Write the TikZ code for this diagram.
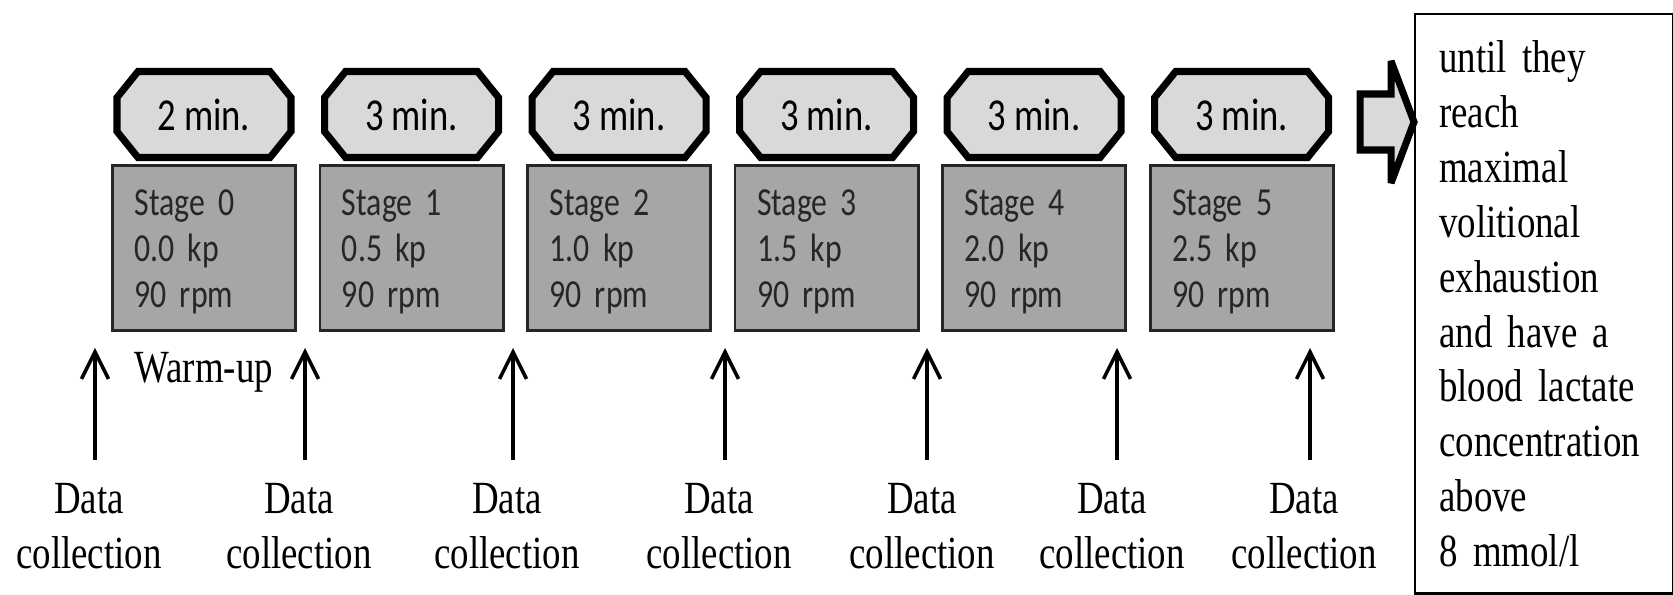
\documentclass[tikz,border=0pt]{standalone}
\usepackage{fontspec}
\setmainfont{Liberation Serif}[FakeStretch=0.8, WordSpace=0.8]
\newfontfamily\calfont{Carlito}[FakeStretch=0.8, WordSpace=0.95]
\usepackage{tikz}
\usetikzlibrary{arrows.meta}
\usetikzlibrary{positioning,backgrounds}

\definecolor{lightfill}{RGB}{217,217,217}
\definecolor{stagefill}{RGB}{166,166,166}

\tikzset{
  stagebox/.style={draw=black!85, line width=0.8pt, fill=stagefill,
    minimum width=1.83cm, minimum height=1.65cm, text width=1.39cm,
    inner xsep=0.22cm, align=left, text=black!85,
    execute at begin node={\rule{0pt}{0.34cm}},
    font=\calfont\fontsize{11.3}{13.1}\selectfont},
  timebox/.style={inner sep=0pt, outer sep=0pt, minimum height=0.87cm,
    font=\calfont\fontsize{13}{15}\selectfont},
  octline/.style={draw, line width=2pt, fill=lightfill},
  octpath/.style={insert path={+(-87,-17) -- +(-66,-43) -- +(66,-43) -- +(87,-17)
    -- +(87,17) -- +(66,43) -- +(-66,43) -- +(-87,17) -- cycle}},
  datalbl/.style={align=center, anchor=north, inner xsep=0pt, inner ysep=0.22cm,
    font=\fontsize{13.1}{15.6}\selectfont},
  goalbox/.style={draw, line width=0.7pt, anchor=north west,
    minimum width=2.57cm, minimum height=5.79cm, text width=2.1cm,
    inner xsep=0.24cm, align=left, font=\fontsize{13.1}{15.6}\selectfont},
  bigarrow/.style={draw, line width=2pt, line join=miter, miter limit=4, fill=lightfill}
}

\begin{document}
\begin{tikzpicture}[x=0.01cm, y=-0.01cm, line width=1pt,
  >={Straight Barb[length=2.7mm,width=2.7mm]}]
\useasboundingbox (0,0) rectangle (1673,595);
% stages
\node (s0) [stagebox] at (204,248) {Stage 0\\0.0 kp\\90 rpm};
\node (s1) [stagebox, right=0.216cm of s0] {Stage 1\\0.5 kp\\90 rpm};
\node (s2) [stagebox, right=0.216cm of s1] {Stage 2\\1.0 kp\\90 rpm};
\node (s3) [stagebox, right=0.216cm of s2] {Stage 3\\1.5 kp\\90 rpm};
\node (s4) [stagebox, right=0.216cm of s3] {Stage 4\\2.0 kp\\90 rpm};
\node (s5) [stagebox, right=0.216cm of s4] {Stage 5\\2.5 kp\\90 rpm};
% durations
\node (t0) [timebox, above=0.06cm of s0] {2 min.};
\node (t1) [timebox, above=0.06cm of s1] {3 min.};
\node (t2) [timebox, above=0.06cm of s2] {3 min.};
\node (t3) [timebox, above=0.06cm of s3] {3 min.};
\node (t4) [timebox, above=0.06cm of s4] {3 min.};
\node (t5) [timebox, above=0.06cm of s5] {3 min.};
\begin{scope}[on background layer]
\path[octline] (t0.center) [octpath];
\path[octline] (t1.center) [octpath];
\path[octline] (t2.center) [octpath];
\path[octline] (t3.center) [octpath];
\path[octline] (t4.center) [octpath];
\path[octline] (t5.center) [octpath];
\end{scope}
\node (warm) [anchor=base west, inner sep=0pt, font=\fontsize{13.1}{15.6}\selectfont] at (133,383) {Warm-up};
% end criterion
\node (goal) [goalbox] at (1414,13) {until they\\reach\\maximal\\volitional\\exhaustion\\and have a\\blood lactate\\concentration\\above\\8 mmol/l};
\coordinate (more) at (1360,122);
\draw[bigarrow] (more) ++(0,-28) -- ++(31,0) -- ++(0,-33) -- ++(23,61) -- ++(-23,61)
  -- ++(0,-33) -- ++(-31,0) -- cycle;
% data collection points
\coordinate (a0) at (95,348);
\coordinate (a1) at (305,348);
\coordinate (a2) at (513,348);
\coordinate (a3) at (725,348);
\coordinate (a4) at (927,348);
\coordinate (a5) at (1117,348);
\coordinate (a6) at (1310,348);
\node (d0) [datalbl] at (89,460) {Data\\collection};
\node (d1) [datalbl] at (299,460) {Data\\collection};
\node (d2) [datalbl] at (507,460) {Data\\collection};
\node (d3) [datalbl] at (719,460) {Data\\collection};
\node (d4) [datalbl] at (922,460) {Data\\collection};
\node (d5) [datalbl] at (1112,460) {Data\\collection};
\node (d6) [datalbl] at (1304,460) {Data\\collection};
\draw[->] (d0.north -| a0) -- (a0);
\draw[->] (d1.north -| a1) -- (a1);
\draw[->] (d2.north -| a2) -- (a2);
\draw[->] (d3.north -| a3) -- (a3);
\draw[->] (d4.north -| a4) -- (a4);
\draw[->] (d5.north -| a5) -- (a5);
\draw[->] (d6.north -| a6) -- (a6);
\end{tikzpicture}
\end{document}
